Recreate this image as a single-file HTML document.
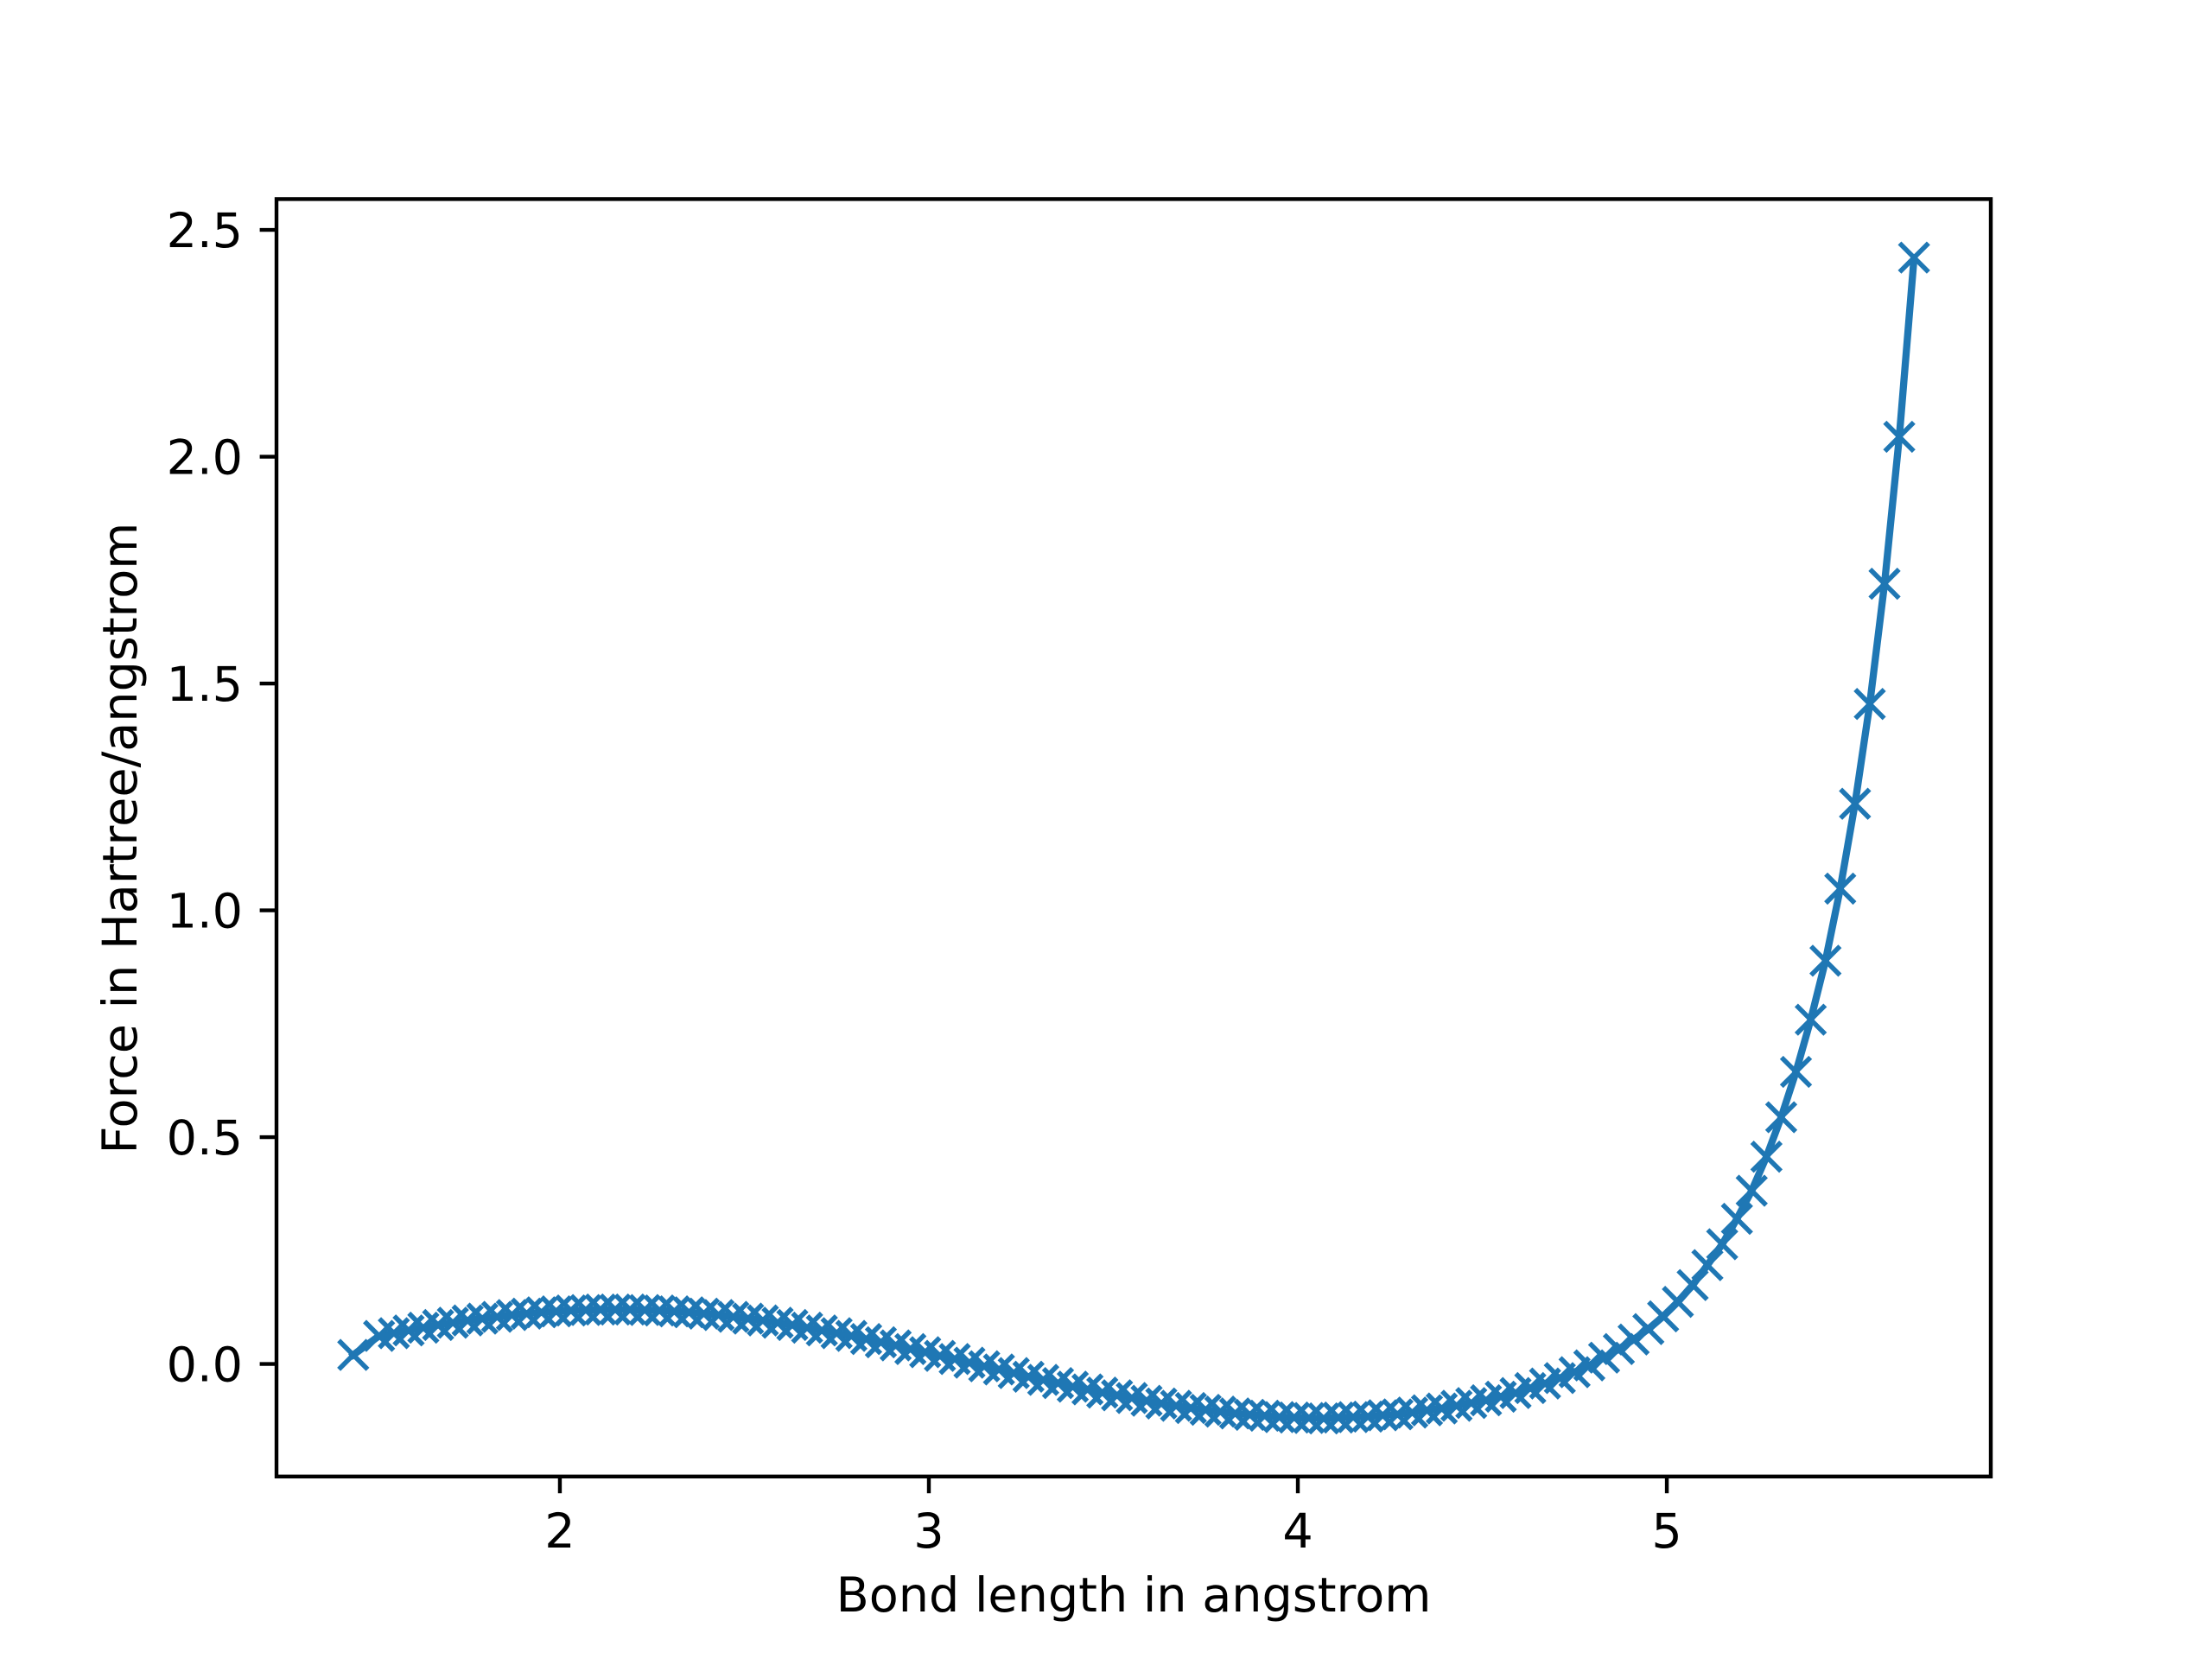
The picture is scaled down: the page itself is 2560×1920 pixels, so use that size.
<!DOCTYPE html>
<html><head><meta charset="utf-8"><style>
html,body{margin:0;padding:0;background:#fff;}
svg{display:block;}
text{font-family:"DejaVu Sans","Liberation Sans",sans-serif;fill:#000;}
</style></head><body>
<svg id="chart" width="2560" height="1920" viewBox="0 0 2560 1920" xmlns="http://www.w3.org/2000/svg">
<rect x="0" y="0" width="2560" height="1920" fill="#fff"/>
<g id="plot"></g>
<g id="axes"></g>
<text x="1312" y="1865" font-size="55.6" text-anchor="middle">Bond length in angstrom</text>
<text transform="translate(158,970) rotate(-90)" font-size="55.6" text-anchor="middle">Force in Hartree/angstrom</text>
</svg>
<script>
const bondLengths = [1.44,1.51,1.55,1.59,1.63,1.67,1.71,1.75,1.79,1.83,1.87,1.91,1.95,1.99,2.03,2.07,2.11,2.15,2.19,2.23,2.27,2.31,2.35,2.39,2.43,2.47,2.51,2.55,2.59,2.63,2.67,2.71,2.75,2.79,2.83,2.87,2.91,2.95,2.99,3.03,3.07,3.11,3.15,3.19,3.23,3.27,3.31,3.35,3.39,3.43,3.47,3.51,3.55,3.59,3.63,3.67,3.71,3.75,3.79,3.83,3.87,3.91,3.95,3.99,4.03,4.07,4.11,4.15,4.19,4.23,4.27,4.31,4.35,4.39,4.43,4.47,4.51,4.55,4.59,4.63,4.67,4.71,4.75,4.79,4.83,4.87,4.91,4.95,4.99,5.03,5.07,5.11,5.15,5.19,5.23,5.27,5.31,5.35,5.39,5.43,5.47,5.51,5.55,5.59,5.63,5.67];
const forces = [0.02,0.062,0.068,0.074,0.080,0.086,0.091,0.096,0.100,0.104,0.108,0.111,0.114,0.116,0.118,0.119,0.120,0.120,0.120,0.119,0.118,0.116,0.114,0.111,0.108,0.104,0.100,0.096,0.091,0.086,0.080,0.074,0.068,0.062,0.055,0.048,0.041,0.033,0.026,0.018,0.011,0.003,-0.005,-0.012,-0.020,-0.028,-0.035,-0.042,-0.050,-0.056,-0.063,-0.069,-0.075,-0.081,-0.087,-0.092,-0.097,-0.101,-0.105,-0.109,-0.112,-0.114,-0.117,-0.118,-0.119,-0.120,-0.118,-0.117,-0.116,-0.113,-0.111,-0.107,-0.102,-0.098,-0.092,-0.086,-0.080,-0.072,-0.064,-0.053,-0.043,-0.031,-0.018,-0.003,0.014,0.033,0.054,0.077,0.105,0.137,0.174,0.218,0.264,0.32,0.382,0.457,0.544,0.644,0.759,0.889,1.048,1.235,1.455,1.72,2.044,2.439];
const xTicks = [2,3,4,5];
const xTickLabels = ["2","3","4","5"];
const yTicks = [0,0.5,1,1.5,2,2.5];
const yTickLabels = ["0.0","0.5","1.0","1.5","2.0","2.5"];

const L=320,R=2304,T=230.4,B=1708.8;
const xMin=1.232,xMax=5.878,yMin=-0.248,yMax=2.568;
function sx(v){return L+(v-xMin)/(xMax-xMin)*(R-L);}
function sy(v){return B-(v-yMin)/(yMax-yMin)*(B-T);}
const NS="http://www.w3.org/2000/svg";
const plot=document.getElementById('plot');
const axes=document.getElementById('axes');
function mk(tag,attrs,parent){const e=document.createElementNS(NS,tag);for(const k in attrs)e.setAttribute(k,attrs[k]);parent.appendChild(e);return e;}

let d='';
bondLengths.forEach((x,i)=>{d+=(i?'L':'M')+sx(x).toFixed(2)+','+sy(forces[i]).toFixed(2);});
const line=mk('path',{d:d,fill:'none',stroke:'#1f77b4','stroke-width':8.3,'stroke-linejoin':'round','stroke-linecap':'square'},plot);


const s=16.7;
bondLengths.forEach((x,i)=>{
  const cx=sx(x),cy=sy(forces[i]);
  const m=mk('path',{d:`M${cx-s},${cy-s}L${cx+s},${cy+s}M${cx-s},${cy+s}L${cx+s},${cy-s}`,stroke:'#1f77b4','stroke-width':5.6,fill:'none'},plot);
  
  
});

const frame=mk('rect',{x:L,y:T,width:R-L,height:B-T,fill:'none',stroke:'#000','stroke-width':4.4},axes);


xTicks.forEach((v,i)=>{
  const x=sx(v);
  const t=mk('line',{x1:x,y1:B,x2:x,y2:B+19.4,stroke:'#000','stroke-width':4.4},axes);
  
  
  const lb=mk('text',{x:x,y:B+40+42,'font-size':55.6,'text-anchor':'middle'},axes);
  lb.textContent=xTickLabels[i];
  
  
});
yTicks.forEach((v,i)=>{
  const y=sy(v);
  const t=mk('line',{x1:L-19.4,y1:y,x2:L,y2:y,stroke:'#000','stroke-width':4.4},axes);
  
  
  const lb=mk('text',{x:L-39,y:y+20,'font-size':55.6,'text-anchor':'end'},axes);
  lb.textContent=yTickLabels[i];
  
  
});
</script>
</body></html>
